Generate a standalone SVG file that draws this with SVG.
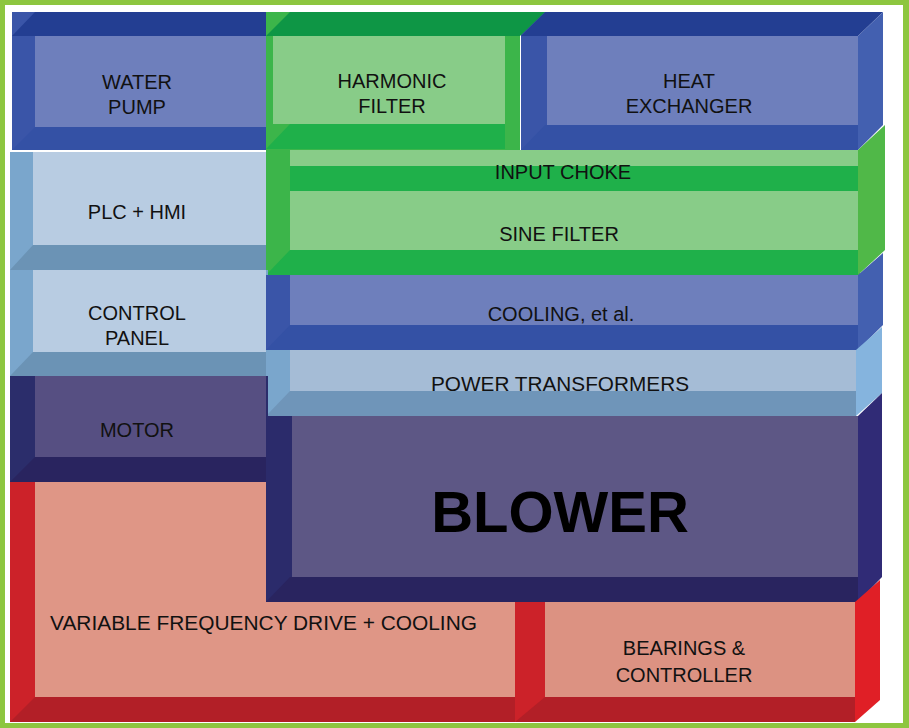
<svg xmlns="http://www.w3.org/2000/svg" width="909" height="728" viewBox="0 0 909 728">
<style>
text{font-family:"Liberation Sans",Arial,sans-serif;font-size:20px;fill:#111;text-anchor:middle}
.b{font-weight:bold;font-size:58px;fill:#000}
</style>
<rect x="0" y="0" width="909" height="728" fill="#8dc63f"/>
<rect x="5" y="5" width="898" height="718" fill="#fff"/>
<g id="water-pump">
<rect x="12" y="12" width="256" height="138" fill="#3a55a8"/>
<polygon points="12,36 35,12 268,12 268,36" fill="#233e92"/>
<rect x="35" y="36" width="233" height="91" fill="#6e7fbc"/>
<polygon points="12,150 35,127 268,127 268,150" fill="#3451a5"/>
<text x="137" y="89">WATER</text><text x="137" y="114">PUMP</text>
</g>
<g id="heat-exchanger">
<rect x="521" y="12" width="337" height="138" fill="#3a55a8"/>
<polygon points="521,36 545,12 883,12 858,36" fill="#233e92"/>
<polygon points="858,36 883,12 883,125 858,150" fill="#4360b0"/>
<rect x="547" y="36" width="311" height="89" fill="#6e7fbc"/>
<polygon points="521,150 545,125 858,125 858,150" fill="#3451a5"/>
<text x="689" y="88">HEAT</text><text x="689" y="113">EXCHANGER</text>
</g>
<g id="harmonic-filter">
<rect x="266" y="12" width="254" height="138" fill="#3cb54a"/>
<polygon points="266,36 290,12 545,12 520,36" fill="#0e9645"/>
<rect x="273" y="36" width="247" height="88" fill="#88cc88"/>
<rect x="505" y="36" width="15" height="112" fill="#3cb54a"/>
<polygon points="266,149 290,124 505,124 505,149" fill="#1fb04a"/>
<text x="392" y="88">HARMONIC</text><text x="392" y="113">FILTER</text>
</g>
<g id="plc-hmi">
<rect x="10" y="152" width="258" height="118" fill="#7aa6cc"/>
<rect x="33" y="152" width="233" height="93" fill="#b8cce2"/>
<polygon points="10,270 33,245 266,245 266,270" fill="#6b93b5"/>
<text x="137" y="219">PLC + HMI</text>
</g>
<g id="input-choke-sine-filter">
<rect x="266" y="150" width="594" height="125" fill="#3cb54a"/>
<rect x="290" y="150" width="570" height="16" fill="#88cc88"/>
<rect x="290" y="166" width="570" height="25" fill="#1fb04a"/>
<rect x="290" y="191" width="568" height="59" fill="#88cc88"/>
<polygon points="266,275 290,250 858,250 858,275" fill="#1fb04a"/>
<polygon points="858,150 885,125 885,250 858,275" fill="#50b848"/>
<text x="563" y="179">INPUT CHOKE</text>
<text x="559" y="241">SINE FILTER</text>
</g>
<g id="control-panel">
<rect x="10" y="270" width="258" height="106" fill="#7aa6cc"/>
<rect x="33" y="270" width="233" height="82" fill="#b8cce2"/>
<polygon points="10,376 33,352 266,352 266,376" fill="#6b93b5"/>
<text x="137" y="320">CONTROL</text><text x="137" y="345">PANEL</text>
</g>
<g id="cooling">
<rect x="266" y="275" width="592" height="75" fill="#3a55a8"/>
<rect x="290" y="275" width="568" height="50" fill="#6e7fbc"/>
<polygon points="266,350 290,325 858,325 858,350" fill="#3451a5"/>
<polygon points="858,275 883,253 883,325 858,350" fill="#4360b0"/>
<text x="561" y="321">COOLING, et al.</text>
</g>
<g id="power-transformers">
<rect x="266" y="350" width="590" height="66" fill="#7aa6cc"/>
<rect x="290" y="350" width="566" height="41" fill="#a5bcd6"/>
<polygon points="266,416 290,391 856,391 856,416" fill="#6f95b9"/>
<polygon points="856,350 882,327 882,393 856,416" fill="#85b4de"/>
<text x="560" y="391" textLength="258" lengthAdjust="spacingAndGlyphs">POWER TRANSFORMERS</text>
</g>
<g id="motor">
<rect x="10" y="376" width="258" height="106" fill="#2b2d6b"/>
<rect x="35" y="376" width="231" height="81" fill="#564f82"/>
<polygon points="10,482 35,457 266,457 266,482" fill="#29245f"/>
<text x="137" y="437">MOTOR</text>
</g>
<g id="blower">
<rect x="266" y="416" width="592" height="186" fill="#2b2b6b"/>
<rect x="292" y="416" width="566" height="161" fill="#5d5785"/>
<polygon points="266,602 290,577 858,577 858,602" fill="#29245f"/>
<polygon points="858,416 882,393 882,577 858,602" fill="#302b76"/>
<text class="b" x="560" y="532">BLOWER</text>
</g>
<g id="vfd">
<polygon points="10,482 266,482 266,602 515,602 515,722 10,722" fill="#cc2229"/>
<polygon points="35,482 266,482 266,602 515,602 515,697 35,697" fill="#df9686"/>
<polygon points="10,722 35,697 515,697 515,722" fill="#b21f27"/>
<text x="50" y="630" style="text-anchor:start" textLength="427" lengthAdjust="spacingAndGlyphs">VARIABLE FREQUENCY DRIVE + COOLING</text>
</g>
<g id="bearings">
<rect x="515" y="602" width="340" height="120" fill="#cc2229"/>
<rect x="545" y="602" width="310" height="95" fill="#dc9282"/>
<polygon points="515,722 545,697 855,697 855,722" fill="#b21f27"/>
<polygon points="855,602 880,580 880,700 855,722" fill="#e01f26"/>
<text x="684" y="655">BEARINGS &amp;</text><text x="684" y="682">CONTROLLER</text>
</g>
<g id="connectors"/>
</svg>
